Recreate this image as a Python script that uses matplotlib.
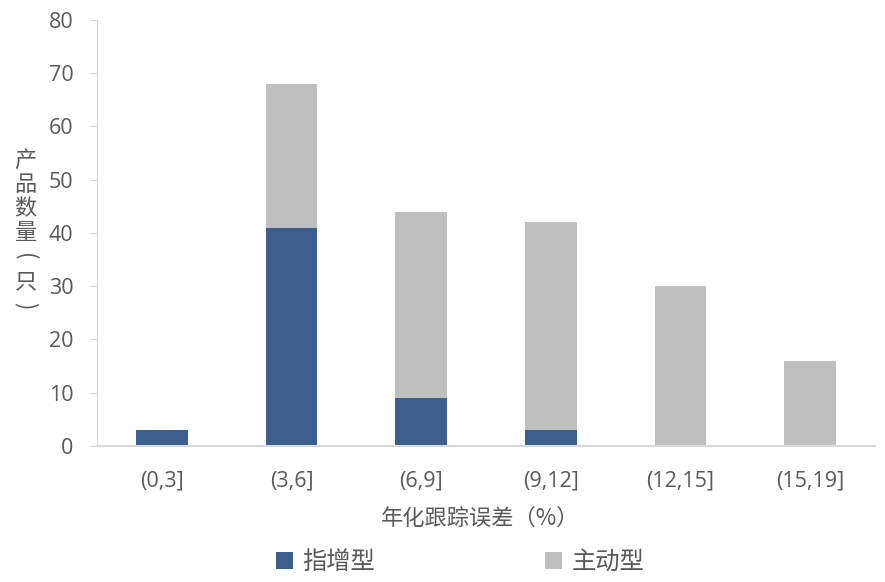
import matplotlib
matplotlib.use('Agg')
from matplotlib import pyplot as plt
import numpy as np

plt.rcParams['font.family'] = ['Open Sans', 'Noto Sans CJK SC', 'DejaVu Sans']

# 年化跟踪误差区间及产品数量
categories = ['(0,3]', '(3,6]', '(6,9]', '(9,12]', '(12,15]', '(15,19]']
zhizeng = [3, 41, 9, 3, 0, 0]
zhudong = [0, 27, 35, 39, 30, 16]

blue = '#3D5F8D'
grey = '#BFBFBF'
txt = '#595959'
cjk = ['Noto Sans CJK SC', 'DejaVu Sans']

fig = plt.figure(figsize=(8.85, 5.82), dpi=100)
ax = fig.add_axes([0.1096, 0.2337, 0.879, 0.732])

x = np.arange(len(categories))
ax.bar(x, zhizeng, width=0.4, color=blue, label='指增型')
ax.bar(x, zhudong, width=0.4, bottom=zhizeng, color=grey, label='主动型')

ax.set_xlim(-0.5, len(categories) - 0.5)
ax.set_ylim(0, 80)
ax.set_yticks(range(0, 81, 10))
ax.set_xticks(x)
ax.set_xticklabels(categories)

for s in ['top', 'right']:
    ax.spines[s].set_visible(False)
ax.spines['left'].set_color('#D9D9D9')
ax.spines['bottom'].set_color('#D9D9D9')
ax.spines['bottom'].set_linewidth(1.5)
ax.tick_params(axis='y', colors='#D9D9D9', labelcolor=txt, labelsize=15.5, length=5, pad=12)
ax.tick_params(axis='x', length=0, labelcolor=txt, labelsize=15.5, pad=18)

# vertical y label, one character per line, brackets turned
ylab = ['产', '品', '数', '量', '(', '只', ')']
for i, ch in enumerate(ylab):
    rot = -90 if ch in '()' else 0
    fig.text(0.029, 1 - (160 + i * 24.3) / 582, ch, ha='center', va='center',
             fontsize=16, color=txt, family=cjk, rotation=rot)

fig.text(0.543, 0.11, '年化跟踪误差（%）', ha='center', va='center', fontsize=16, color=txt,
         family=cjk)

fig.legend(loc='center', bbox_to_anchor=(0.52, 0.035), ncol=2, frameon=False,
           prop={'family': cjk, 'size': 17.5}, labelcolor=txt,
           handlelength=0.7, handleheight=0.7, handletextpad=0.4, columnspacing=7)

fig.savefig('out.png', dpi=100)
